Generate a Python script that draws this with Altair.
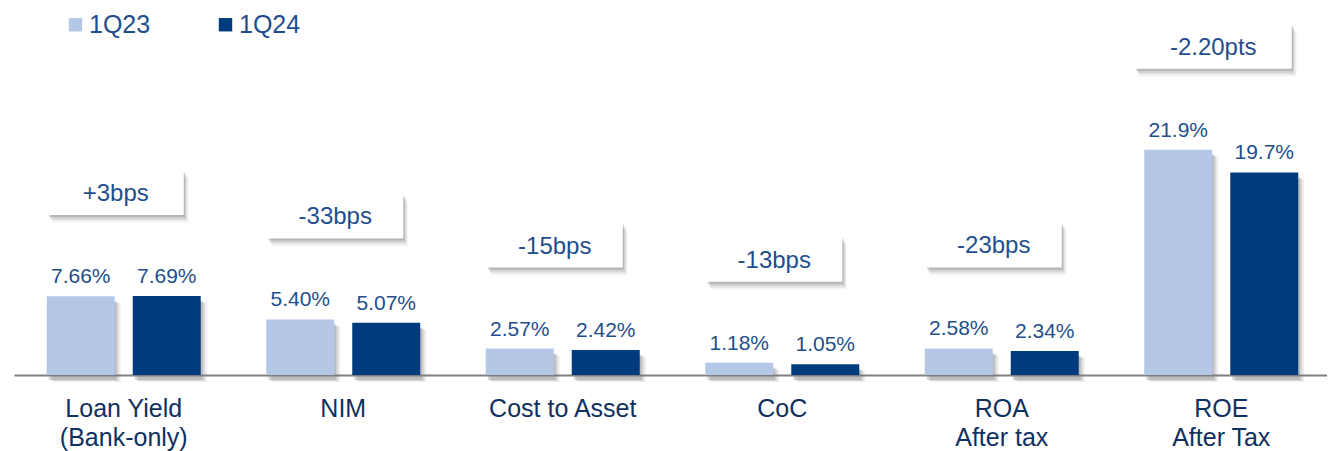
import altair as alt
import pandas as pd

categories = ["Loan Yield|(Bank-only)", "NIM", "Cost to Asset", "CoC", "ROA|After tax", "ROE|After Tax"]
series = ["1Q23", "1Q24"]
q23 = [7.66, 5.40, 2.57, 1.18, 2.58, 21.9]
q24 = [7.69, 5.07, 2.42, 1.05, 2.34, 19.7]
deltas = ["+3bps", "-33bps", "-15bps", "-13bps", "-23bps", "-2.20pts"]

LIGHT = "#B4C7E7"
DARK = "#003C7D"
VAL_COLOR = "#1F4E8C"
CAT_COLOR = "#10305E"
FONT = "Liberation Sans"

rows = []
for c, a, b in zip(categories, q23, q24):
    rows.append({"category": c, "series": series[0], "value": a})
    rows.append({"category": c, "series": series[1], "value": b})
df = pd.DataFrame(rows)
ddf = pd.DataFrame({"category": categories, "delta": deltas,
                    "top": [max(a, b) for a, b in zip(q23, q24)]})

xenc = alt.X("category:N", sort=categories,
             scale=alt.Scale(paddingInner=0, paddingOuter=0, round=False, range=[0, 1317]),
             axis=alt.Axis(title=None, labelExpr="split(datum.label, '|')", labelAngle=0,
                           ticks=False, domainColor="#808080", domainWidth=2,
                           labelFontSize=25, labelFont=FONT, labelColor=CAT_COLOR,
                           labelPadding=21, labelLineHeight=29))
yscale = alt.Scale(domain=[0, 35.1], nice=False, zero=True)
yenc = alt.Y("value:Q", scale=yscale, axis=None)

base = alt.Chart(df).transform_calculate(
    label="(datum.value >= 10 ? format(datum.value, '.1f') : format(datum.value, '.2f')) + '%'"
)

layers = []
offsets = {series[0]: -43, series[1]: 43}
# bar shadows
for s in series:
    for d, op in [(2, 0.3), (4, 0.2), (6, 0.12)]:
        layers.append(
            base.transform_filter(alt.datum.series == s)
            .mark_bar(width=68, xOffset=offsets[s] + d, yOffset=4 + d / 2, color="#7F7F7F", opacity=op)
            .encode(x=xenc, y=yenc)
        )
# bars
for s in series:
    layers.append(
        base.transform_filter(alt.datum.series == s)
        .mark_bar(width=68, xOffset=offsets[s])
        .encode(x=xenc, y=yenc,
                color=alt.Color("series:N", scale=alt.Scale(domain=series, range=[LIGHT, DARK]),
                                legend=alt.Legend(orient="none", legendX=49, legendY=-2, direction="horizontal",
                                                  title=None, symbolType="square", symbolSize=180,
                                                  symbolStrokeWidth=0, labelFontSize=25, labelFont=FONT,
                                                  labelColor=VAL_COLOR, labelOffset=1, columnPadding=62,
                                                  padding=0)))
    )
    layers.append(
        base.transform_filter(alt.datum.series == s)
        .mark_text(dy=-13, baseline="alphabetic", fontSize=21, font=FONT, color=VAL_COLOR, xOffset=offsets[s])
        .encode(x=xenc, y=yenc, text="label:N")
    )

dbase = alt.Chart(ddf).transform_calculate(n="length(datum.delta)")
ytop = alt.Y("top:Q", scale=yscale, axis=None)
size = alt.Size("n:Q", scale=alt.Scale(type="threshold", domain=[7], range=[136, 157]), legend=None)
# box shadows
for d, op in [(2, 0.3), (4, 0.22), (6, 0.14), (8, 0.07)]:
    layers.append(
        dbase.mark_bar(color="#7F7F7F", opacity=op, xOffset=-8 + d * 0.6, yOffset=-126 + d, y2Offset=-81 + d)
        .encode(x=xenc, y=ytop, y2=alt.Y2("top:Q"), size=size)
    )
layers.append(
    dbase.mark_bar(color="white", xOffset=-8, yOffset=-126, y2Offset=-81)
    .encode(x=xenc, y=ytop, y2=alt.Y2("top:Q"), size=size)
)
layers.append(
    dbase.mark_text(dy=-102, baseline="middle", fontSize=24, font=FONT, color=VAL_COLOR, xOffset=-8)
    .encode(x=xenc, y=ytop, text="delta:N")
)

chart = alt.layer(*layers).properties(
    width=1313, height=361,
    padding={"left": 6, "top": 6, "right": 0, "bottom": 76},
    autosize=alt.AutoSizeParams(type="none"),
).configure_view(stroke=None)

chart.save("out.html", embed_options={"renderer": "svg", "actions": False})
